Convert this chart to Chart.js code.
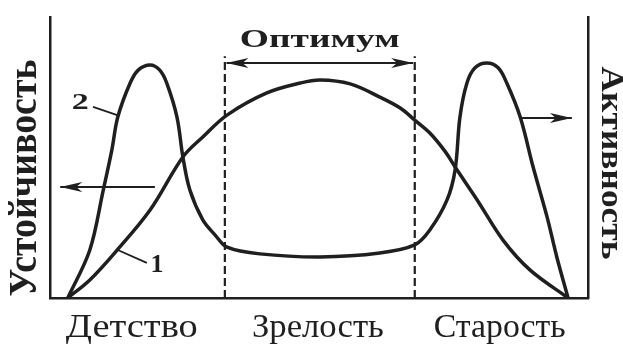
<!DOCTYPE html>
<html>
<head>
<meta charset="utf-8">
<script src="https://cdn.jsdelivr.net/npm/chart.js@4.4.1/dist/chart.umd.min.js"></script>
<style>
  html, body { margin: 0; padding: 0; background: #fff; }
</style>
</head>
<body>
<canvas id="chart1" width="623" height="349"></canvas>
<script>
// age axis runs 0..100, level axis 0..100
const stabAge = [3.3, 7.4, 12.5, 18.6, 24.7, 28.4, 32.9, 40.3, 46.5, 50.2, 55.8, 61.3, 65.1, 67.8, 70.6, 73.5, 75.3, 79.4, 84.2, 89.2, 96.3];
const stability = [0, 6.4, 17.1, 31.3, 50.2, 57.3, 65.1, 73.0, 76.5, 77.6, 76.2, 71.5, 67.6, 63.3, 58.7, 52.0, 46.6, 34.9, 20.6, 10.0, 0];

const actAge = [3.3, 7.4, 9.9, 11.5, 12.6, 14.9, 16.4, 18.6, 20.4, 21.7, 23.6, 24.7, 26.0, 28.4, 30.7, 32.9, 39.0, 50.2, 61.3, 67.8,
  70.6, 73.8, 75.3, 76.2, 77.5, 79.0, 81.2, 83.3, 84.9, 87.4, 89.8, 92.4, 94.2, 96.3];
const activity = [0, 17.1, 38.4, 52.7, 64.4, 76.5, 81.1, 82.9, 81.1, 76.5, 64.4, 50.2, 38.4, 27.8, 22.4, 18.1, 15.7, 14.6, 16.0, 18.9,
  24.2, 34.9, 45.6, 64.4, 76.5, 81.9, 83.6, 81.9, 76.5, 64.4, 46.6, 28.8, 14.6, 0];

const stages = ['Детство', 'Зрелость', 'Старость'];
const stageTicks = [15.2, 49.8, 83.6];
const optimum = [32.5, 67.8];
const optimumTop = 86;

const ink = '#1f1f1f';
const serif = '"Liberation Serif", "DejaVu Serif", serif';

function toPoints(xs, ys) {
  return xs.map((x, i) => ({ x: x, y: ys[i] }));
}

// draws text squeezed/stretched so its length along the reading direction equals len
function fitText(ctx, text, cx, cy, font, len, across, rot) {
  ctx.save();
  ctx.font = font;
  const w = ctx.measureText(text).width;
  ctx.translate(cx, cy);
  ctx.rotate(rot);
  ctx.scale(len / w, across);
  ctx.textAlign = 'center';
  ctx.textBaseline = 'middle';
  ctx.fillStyle = ink;
  ctx.fillText(text, 0, 0);
  ctx.restore();
}

function arrowHead(ctx, x, y, dir) {
  ctx.beginPath();
  ctx.moveTo(x, y);
  ctx.lineTo(x - dir * 22, y - 5);
  ctx.lineTo(x - dir * 16, y);
  ctx.lineTo(x - dir * 22, y + 5);
  ctx.closePath();
  ctx.fill();
}

function hArrow(ctx, xs, ys, fromX, toX, y, both) {
  const a = xs.getPixelForValue(fromX);
  const b = xs.getPixelForValue(toX);
  const py = ys.getPixelForValue(y);
  ctx.beginPath();
  ctx.moveTo(a, py);
  ctx.lineTo(b, py);
  ctx.stroke();
  const dir = b > a ? 1 : -1;
  arrowHead(ctx, b, py, dir);
  if (both) arrowHead(ctx, a, py, -dir);
}

const extras = {
  id: 'extras',
  afterDatasetsDraw(chart) {
    const ctx = chart.ctx;
    const xs = chart.scales.x;
    const ys = chart.scales.y;
    const area = chart.chartArea;
    ctx.save();
    ctx.strokeStyle = ink;
    ctx.fillStyle = ink;
    ctx.lineWidth = 2;

    hArrow(ctx, xs, ys, optimum[0] + 0.3, optimum[1] - 0.3, 83.6, true);
    hArrow(ctx, xs, ys, 19.5, 1.9, 39.5, false);
    hArrow(ctx, xs, ys, 87.4, 97.0, 64.1, false);

    // leaders for curve numbers
    ctx.lineWidth = 1.8;
    ctx.beginPath();
    ctx.moveTo(xs.getPixelForValue(8.0), ys.getPixelForValue(68.0));
    ctx.lineTo(xs.getPixelForValue(12.5), ys.getPixelForValue(65.1));
    ctx.moveTo(xs.getPixelForValue(12.6), ys.getPixelForValue(17.1));
    ctx.lineTo(xs.getPixelForValue(18.0), ys.getPixelForValue(12.5));
    ctx.stroke();
    ctx.restore();

    fitText(ctx, '2', xs.getPixelForValue(5.6), ys.getPixelForValue(69.4), 'bold 24px ' + serif, 17, 1, 0);
    fitText(ctx, '1', xs.getPixelForValue(19.9), ys.getPixelForValue(11.7), 'bold 26px ' + serif, 13, 1, 0);

    const midOpt = xs.getPixelForValue((optimum[0] + optimum[1]) / 2);
    fitText(ctx, 'Оптимум', midOpt, area.top + 23, 'bold 26px ' + serif, 160, 1, 0);

    stages.forEach((s, i) => {
      fitText(ctx, s, xs.getPixelForValue(stageTicks[i]), area.bottom + 30, '32px ' + serif, 132, 1.08, 0);
    });

    fitText(ctx, 'Устойчивость', area.left - 24, area.top + 161, 'bold 32px ' + serif, 237, 1.25, -Math.PI / 2);
    fitText(ctx, 'Активность', area.right + 22, area.top + 146, 'bold 28px ' + serif, 193, 1.15, Math.PI / 2);
  }
};

const lineStyle = {
  borderColor: ink,
  borderWidth: 3.5,
  pointRadius: 0,
  fill: false,
  tension: 0.35
};

const dashStyle = {
  borderColor: ink,
  borderWidth: 2.2,
  borderDash: [8, 4],
  pointRadius: 0,
  fill: false
};

new Chart(document.getElementById('chart1'), {
  type: 'line',
  data: {
    datasets: [
      Object.assign({ label: '1', data: toPoints(stabAge, stability) }, lineStyle),
      Object.assign({ label: '2', data: toPoints(actAge, activity) }, lineStyle),
      Object.assign({ label: 'opt-left', data: [{ x: optimum[0], y: 0 }, { x: optimum[0], y: optimumTop }] }, dashStyle),
      Object.assign({ label: 'opt-right', data: [{ x: optimum[1], y: 0 }, { x: optimum[1], y: optimumTop }] }, dashStyle)
    ]
  },
  options: {
    responsive: false,
    animation: false,
    layout: { padding: { left: 50, right: 35, top: 17, bottom: 51 } },
    plugins: { legend: { display: false }, tooltip: { enabled: false } },
    scales: {
      x: {
        type: 'linear', min: 0, max: 100,
        ticks: { display: false },
        grid: { display: false, drawTicks: false },
        border: { display: true, color: ink, width: 2.5 }
      },
      y: {
        type: 'linear', min: 0, max: 100, position: 'left',
        ticks: { display: false },
        grid: { display: false, drawTicks: false },
        border: { display: true, color: ink, width: 2.5 }
      },
      y2: {
        type: 'linear', min: 0, max: 100, position: 'right',
        ticks: { display: false },
        grid: { display: false, drawTicks: false },
        border: { display: true, color: ink, width: 2.5 }
      }
    }
  },
  plugins: [extras]
});
</script>
</body>
</html>
